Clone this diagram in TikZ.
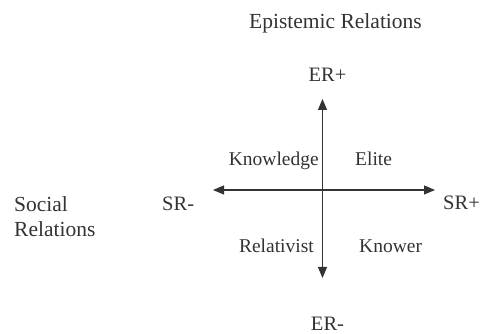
\documentclass[tikz,border=0pt]{standalone}
\usepackage{fontspec}
\setmainfont{Liberation Serif}
\usetikzlibrary{arrows.meta}
\definecolor{ink}{HTML}{333333}
\begin{document}
\begin{tikzpicture}[x=1pt,y=1pt,
  lbl/.style={inner sep=0pt, text=ink},
  big/.style={lbl, font=\fontsize{21.5}{25}\selectfont},
  mid/.style={lbl, font=\fontsize{20.5}{24}\selectfont},
  sml/.style={lbl, font=\fontsize{19.5}{23}\selectfont},
  axis/.style={draw=ink, line width=1.2pt, -{Triangle[length=11pt,width=9pt]}}]
\useasboundingbox (0,0) rectangle (482,334);
\node[big, anchor=base] (title) at (335.5,305) {Epistemic Relations};
\node[mid, anchor=base] (erp) at (327.5,252) {ER+};
\node[mid, anchor=base] (erm) at (327.5,3) {ER-};
\node[big, anchor=base west] (soc) at (14,122.5) {Social};
\node[big, anchor=base west] (socr) at (14,97.5) {Relations};
\node[mid, anchor=base west] (srm) at (162,123) {SR-};
\node[mid, anchor=base west] (srp) at (443,124) {SR+};
\node[sml, anchor=base east] (know) at (319,168) {Knowledge};
\node[sml, anchor=base west] (elite) at (355,168) {Elite};
\node[sml, anchor=base east] (rel) at (314,81) {Relativist};
\node[sml, anchor=base west] (kno) at (359,81) {Knower};
\coordinate (c) at (322.5,144);
\coordinate (top) at (322.5,235);
\coordinate (bot) at (322.5,56);
\coordinate (left) at (213,144);
\coordinate (right) at (435,144);
\draw[axis] (c) -- (top);
\draw[axis] (c) -- (bot);
\draw[axis] (c) -- (left);
\draw[axis] (c) -- (right);
\end{tikzpicture}
\end{document}
